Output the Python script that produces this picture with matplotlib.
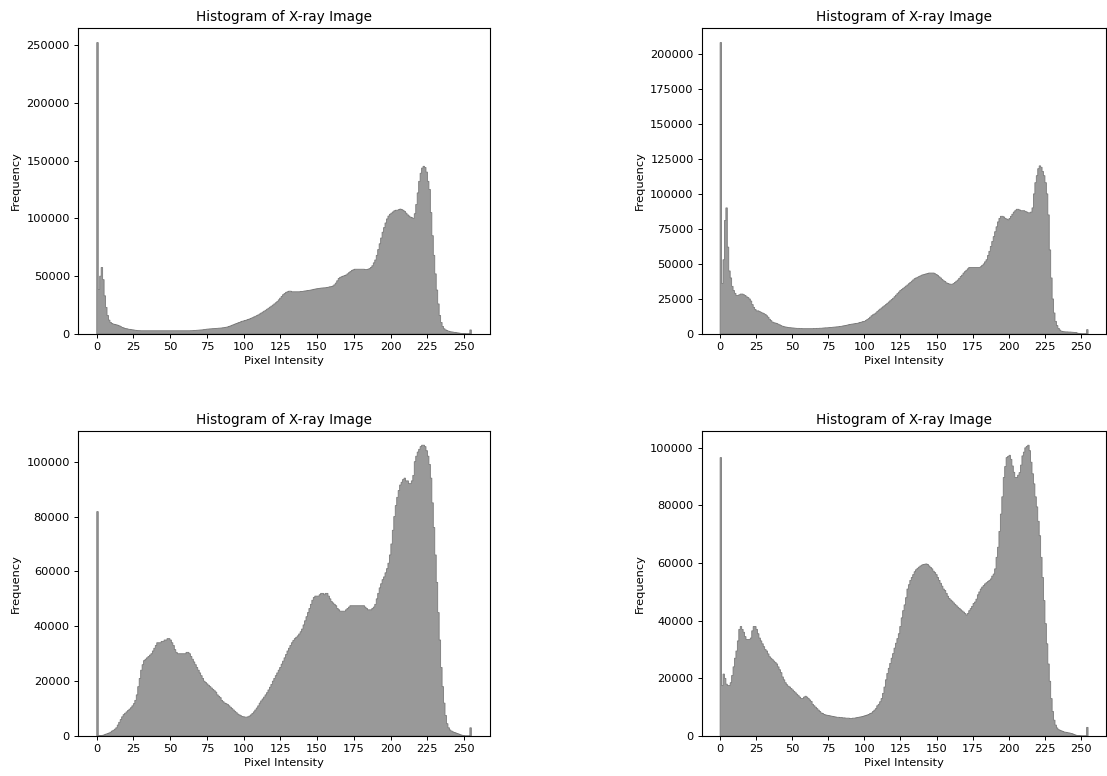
import numpy as np
import matplotlib
matplotlib.use('Agg')
import matplotlib.pyplot as plt

# pixel intensity counts per bin (256 bins over 0..255)
counts_a = [
    252000, 38500, 50000, 57500, 47000, 33000, 23000, 16000, 12000, 10000,
    9000, 8500, 8200, 7900, 7500, 7000, 6300, 5700, 5200, 4800,
    4500, 4200, 4000, 3800, 3600, 3400, 3200, 3000, 2900, 2850,
    2800, 2800, 2800, 2800, 2800, 2800, 2800, 2800, 2800, 2800,
    2800, 2800, 2800, 2800, 2800, 2800, 2800, 2800, 2800, 2800,
    2800, 2800, 2800, 2800, 2800, 2800, 2800, 2800, 2800, 2800,
    2800, 2800, 2800, 2800, 2850, 2900, 3000, 3100, 3200, 3300,
    3400, 3500, 3600, 3800, 4000, 4200, 4300, 4400, 4500, 4600,
    4700, 4800, 4900, 5000, 5100, 5200, 5400, 5600, 5800, 6100,
    6500, 7000, 7500, 8000, 8500, 9000, 9500, 10000, 10500, 11000,
    11300, 11700, 12100, 12500, 13000, 13500, 14100, 14700, 15300, 15900,
    16500, 17300, 18100, 18900, 19700, 20500, 21400, 22300, 23200, 24100,
    25000, 26000, 27000, 28000, 29500, 31000, 32500, 34000, 35000, 36000,
    36500, 37000, 37000, 36500, 36500, 36500, 36500, 36500, 36500, 36700,
    36800, 37000, 37200, 37400, 37600, 37800, 38000, 38300, 38600, 38900,
    39100, 39300, 39500, 39700, 39800, 39900, 40000, 40200, 40500, 40800,
    41000, 41500, 42500, 44000, 46000, 48000, 49000, 49500, 50000, 50500,
    51000, 52000, 53000, 54000, 55000, 55500, 56000, 56000, 56000, 56000,
    56000, 56000, 56000, 55800, 55800, 56000, 56500, 57500, 59000, 61500,
    64000, 68000, 73000, 78000, 83000, 88000, 92000, 96000, 99500, 102000,
    103500, 104500, 105500, 106500, 107000, 107000, 107500, 108000, 107500, 107000,
    106000, 104500, 103000, 102000, 101000, 100500, 100000, 104000, 112000, 122000,
    132000, 139000, 143500, 145000, 144000, 140000, 132000, 125000, 105000, 85000,
    68000, 52000, 38000, 26000, 16000, 10000, 6500, 4500, 3500, 3000,
    2400, 2000, 1800, 1600, 1400, 1200, 1000, 800, 600, 400,
    250, 100, 0, 0, 0, 3500,
]

counts_b = [
    208000, 36000, 53000, 81000, 90000, 62000, 45000, 40000, 34000, 31000,
    29000, 27500, 27500, 28000, 28500, 28500, 28000, 27500, 26500, 26000,
    25000, 23500, 21000, 19000, 17500, 16500, 16500, 16000, 15500, 15000,
    14500, 14000, 13000, 12000, 10500, 9500, 8500, 8000, 7800, 7500,
    7000, 6500, 6000, 5500, 5200, 5000, 4800, 4600, 4500, 4400,
    4300, 4200, 4100, 4000, 4000, 3900, 3900, 3800, 3800, 3800,
    3800, 3800, 3800, 3800, 3800, 3900, 3900, 4000, 4000, 4100,
    4100, 4200, 4300, 4400, 4400, 4500, 4600, 4700, 4800, 4900,
    5000, 5100, 5200, 5400, 5500, 5700, 5900, 6100, 6300, 6600,
    6800, 7000, 7100, 7300, 7500, 7600, 7900, 8200, 8500, 8800,
    9000, 9700, 10300, 11000, 12000, 13000, 13700, 14300, 15000, 16000,
    17000, 17800, 18600, 19400, 20200, 21000, 21900, 22800, 23700, 24600,
    25500, 26600, 27700, 28800, 29900, 31000, 31800, 32600, 33400, 34200,
    35000, 35900, 36800, 37700, 38600, 39500, 40000, 40500, 41000, 41500,
    42000, 42300, 42600, 42900, 43200, 43500, 43500, 43500, 43500, 43000,
    42500, 41700, 40800, 40000, 39000, 38000, 37500, 36500, 36000, 35700,
    35500, 35500, 36000, 36800, 37700, 38500, 39700, 41000, 42000, 43500,
    44500, 45500, 46500, 47500, 47500, 47500, 47500, 47500, 47500, 47500,
    47500, 48000, 49000, 50000, 51500, 53000, 56000, 59000, 62500, 66000,
    69500, 73000, 76500, 80000, 82500, 84000, 84000, 83500, 82500, 82000,
    81500, 82500, 84000, 85500, 87000, 88000, 89000, 89000, 88500, 88000,
    88000, 88000, 87500, 87000, 86500, 86500, 87000, 90000, 100000, 108000,
    113000, 118000, 120000, 119000, 116000, 113000, 108000, 100000, 85000, 60000,
    40000, 25000, 15000, 9000, 6000, 4000, 2800, 2000, 1700, 1600,
    1500, 1500, 1400, 1400, 1300, 1200, 1100, 1000, 700, 400,
    100, 0, 0, 0, 0, 3100,
]

counts_c = [
    81800, 0, 100, 200, 300, 500, 700, 900, 1100, 1400,
    1800, 2100, 2500, 3000, 4000, 5000, 6000, 7000, 7800, 8300,
    8800, 9300, 9800, 10300, 11000, 11800, 13000, 15000, 18000, 21000,
    24000, 26000, 27500, 28000, 28500, 29000, 29500, 30000, 31000, 32000,
    33000, 34000, 34000, 34000, 34500, 34500, 35000, 35000, 35500, 35500,
    35000, 34000, 33000, 31500, 30500, 30000, 30000, 30000, 30000, 30000,
    30000, 30500, 30500, 30000, 29000, 28000, 27000, 26000, 25000, 24000,
    23000, 22000, 21000, 20000, 19500, 19000, 18500, 18000, 17500, 17000,
    16500, 16000, 15000, 14500, 14000, 13000, 12500, 12000, 11800, 11500,
    11000, 10500, 10000, 9500, 9000, 8500, 8000, 7700, 7400, 7100,
    7000, 6900, 6900, 7000, 7300, 7700, 8200, 8800, 9500, 10200,
    11000, 12000, 12800, 13500, 14200, 15000, 15800, 16800, 17800, 18800,
    20000, 21000, 22000, 23000, 24000, 25000, 26200, 27300, 28500, 29700,
    31000, 32000, 33000, 34000, 34800, 35500, 36000, 36500, 37200, 38000,
    39000, 40500, 42000, 43500, 45000, 46500, 48000, 49500, 50500, 51000,
    51000, 51000, 51500, 52000, 52000, 51500, 52000, 52000, 51000, 50000,
    49000, 48500, 48000, 47500, 46500, 46000, 45500, 45500, 45500, 45500,
    46000, 46500, 47000, 47500, 47500, 47500, 47500, 47500, 47500, 47500,
    47500, 47500, 47500, 47000, 46500, 46000, 46000, 46000, 46500, 47000,
    48000, 50000, 52000, 54000, 55500, 57000, 58000, 59500, 61000, 63000,
    66000, 70000, 75000, 80000, 84000, 87000, 89500, 91500, 92500, 93500,
    94000, 93000, 93000, 92000, 92000, 93000, 95000, 100000, 102000, 103500,
    104500, 105500, 106000, 106000, 105500, 104000, 102000, 99000, 94000, 85000,
    76000, 66000, 56000, 45000, 35000, 25000, 18000, 12000, 7500, 4500,
    3000, 2200, 1800, 1500, 1300, 1100, 900, 700, 500, 300,
    150, 0, 0, 0, 0, 3000,
]

counts_d = [
    96600, 17500, 21500, 20000, 18000, 17500, 17500, 18500, 21000, 24000,
    27000, 29500, 33000, 37000, 38000, 37000, 36000, 34500, 33500, 33500,
    33500, 34000, 36500, 38000, 38000, 37000, 35500, 34000, 33000, 32000,
    31000, 30000, 29500, 28500, 27500, 27000, 26500, 26000, 25500, 25000,
    24000, 23000, 22000, 20500, 19500, 18500, 17800, 17300, 17000, 16500,
    16000, 15500, 15000, 14500, 14000, 13500, 13000, 13000, 13500, 13800,
    13500, 13000, 12500, 12000, 11000, 10500, 10000, 9500, 9000, 8500,
    8000, 7800, 7500, 7300, 7200, 7100, 7000, 6900, 6800, 6700,
    6600, 6500, 6500, 6400, 6400, 6300, 6300, 6200, 6200, 6200,
    6100, 6100, 6200, 6200, 6300, 6400, 6500, 6600, 6700, 6800,
    7000, 7100, 7300, 7500, 7800, 8000, 8500, 9000, 9500, 10500,
    11000, 11900, 13000, 14800, 17000, 19500, 21700, 23500, 25200, 27000,
    28600, 30500, 32200, 33800, 35500, 38000, 41000, 43500, 45500, 48000,
    51000, 52500, 54000, 55000, 56000, 57000, 57700, 58200, 58600, 59000,
    59300, 59500, 59600, 59700, 59500, 59000, 58500, 58000, 57200, 56700,
    56000, 55000, 54000, 53000, 52000, 51000, 50500, 49500, 48500, 47700,
    47200, 46800, 46200, 45700, 45200, 44700, 44300, 43800, 43400, 43000,
    42500, 42000, 42500, 43500, 44200, 45000, 46000, 46500, 47500, 49000,
    50000, 51000, 51700, 52200, 52800, 53200, 53600, 54000, 54500, 55500,
    56200, 58000, 62000, 65500, 71000, 77000, 83000, 89700, 93500, 96600,
    97000, 97400, 96000, 93700, 91500, 89700, 89700, 90500, 91400, 94000,
    97200, 98500, 100000, 100500, 100900, 99000, 95000, 91000, 87500, 83000,
    79500, 74500, 69500, 62000, 55000, 47000, 39000, 32000, 25000, 19000,
    13000, 8500, 5500, 3800, 2800, 2200, 2000, 1800, 1600, 1400,
    1300, 1200, 1100, 1000, 900, 700, 500, 300, 200, 100,
    50, 0, 0, 0, 0, 3000,
]

all_counts = [counts_a, counts_b, counts_c, counts_d]
for c in all_counts:
    assert len(c) == 256, len(c)

# bins as np.histogram gives them for data spanning 0..255
edges = np.linspace(0, 255, 257)
centers = (edges[:-1] + edges[1:]) / 2

plt.rcParams['axes.linewidth'] = 0.8
plt.rcParams['xtick.major.size'] = 2.9
plt.rcParams['ytick.major.size'] = 2.9
plt.rcParams['xtick.major.width'] = 0.7
plt.rcParams['ytick.major.width'] = 0.7

fig = plt.figure(figsize=(11.07, 7.76), dpi=100)
positions = [
    [0.0705, 0.5696, 0.3722, 0.3943],
    [0.6339, 0.5696, 0.3656, 0.3943],
    [0.0705, 0.0515, 0.3722, 0.3935],
    [0.6339, 0.0515, 0.3656, 0.3935],
]

for pos, counts in zip(positions, all_counts):
    ax = fig.add_axes(pos)
    ax.hist(centers, bins=edges, weights=counts, histtype='stepfilled',
            facecolor='#999999', edgecolor='#7a7a7a', linewidth=0.6)
    ax.set_title('Histogram of X-ray Image', fontsize=9.8, pad=5)
    ax.set_xlabel('Pixel Intensity', fontsize=8.2, labelpad=3)
    ax.set_ylabel('Frequency', fontsize=8.2, labelpad=4)
    ax.set_xticks(np.arange(0, 251, 25))
    ax.tick_params(labelsize=8.2, pad=2.9)

plt.savefig('out.png', dpi=100)
